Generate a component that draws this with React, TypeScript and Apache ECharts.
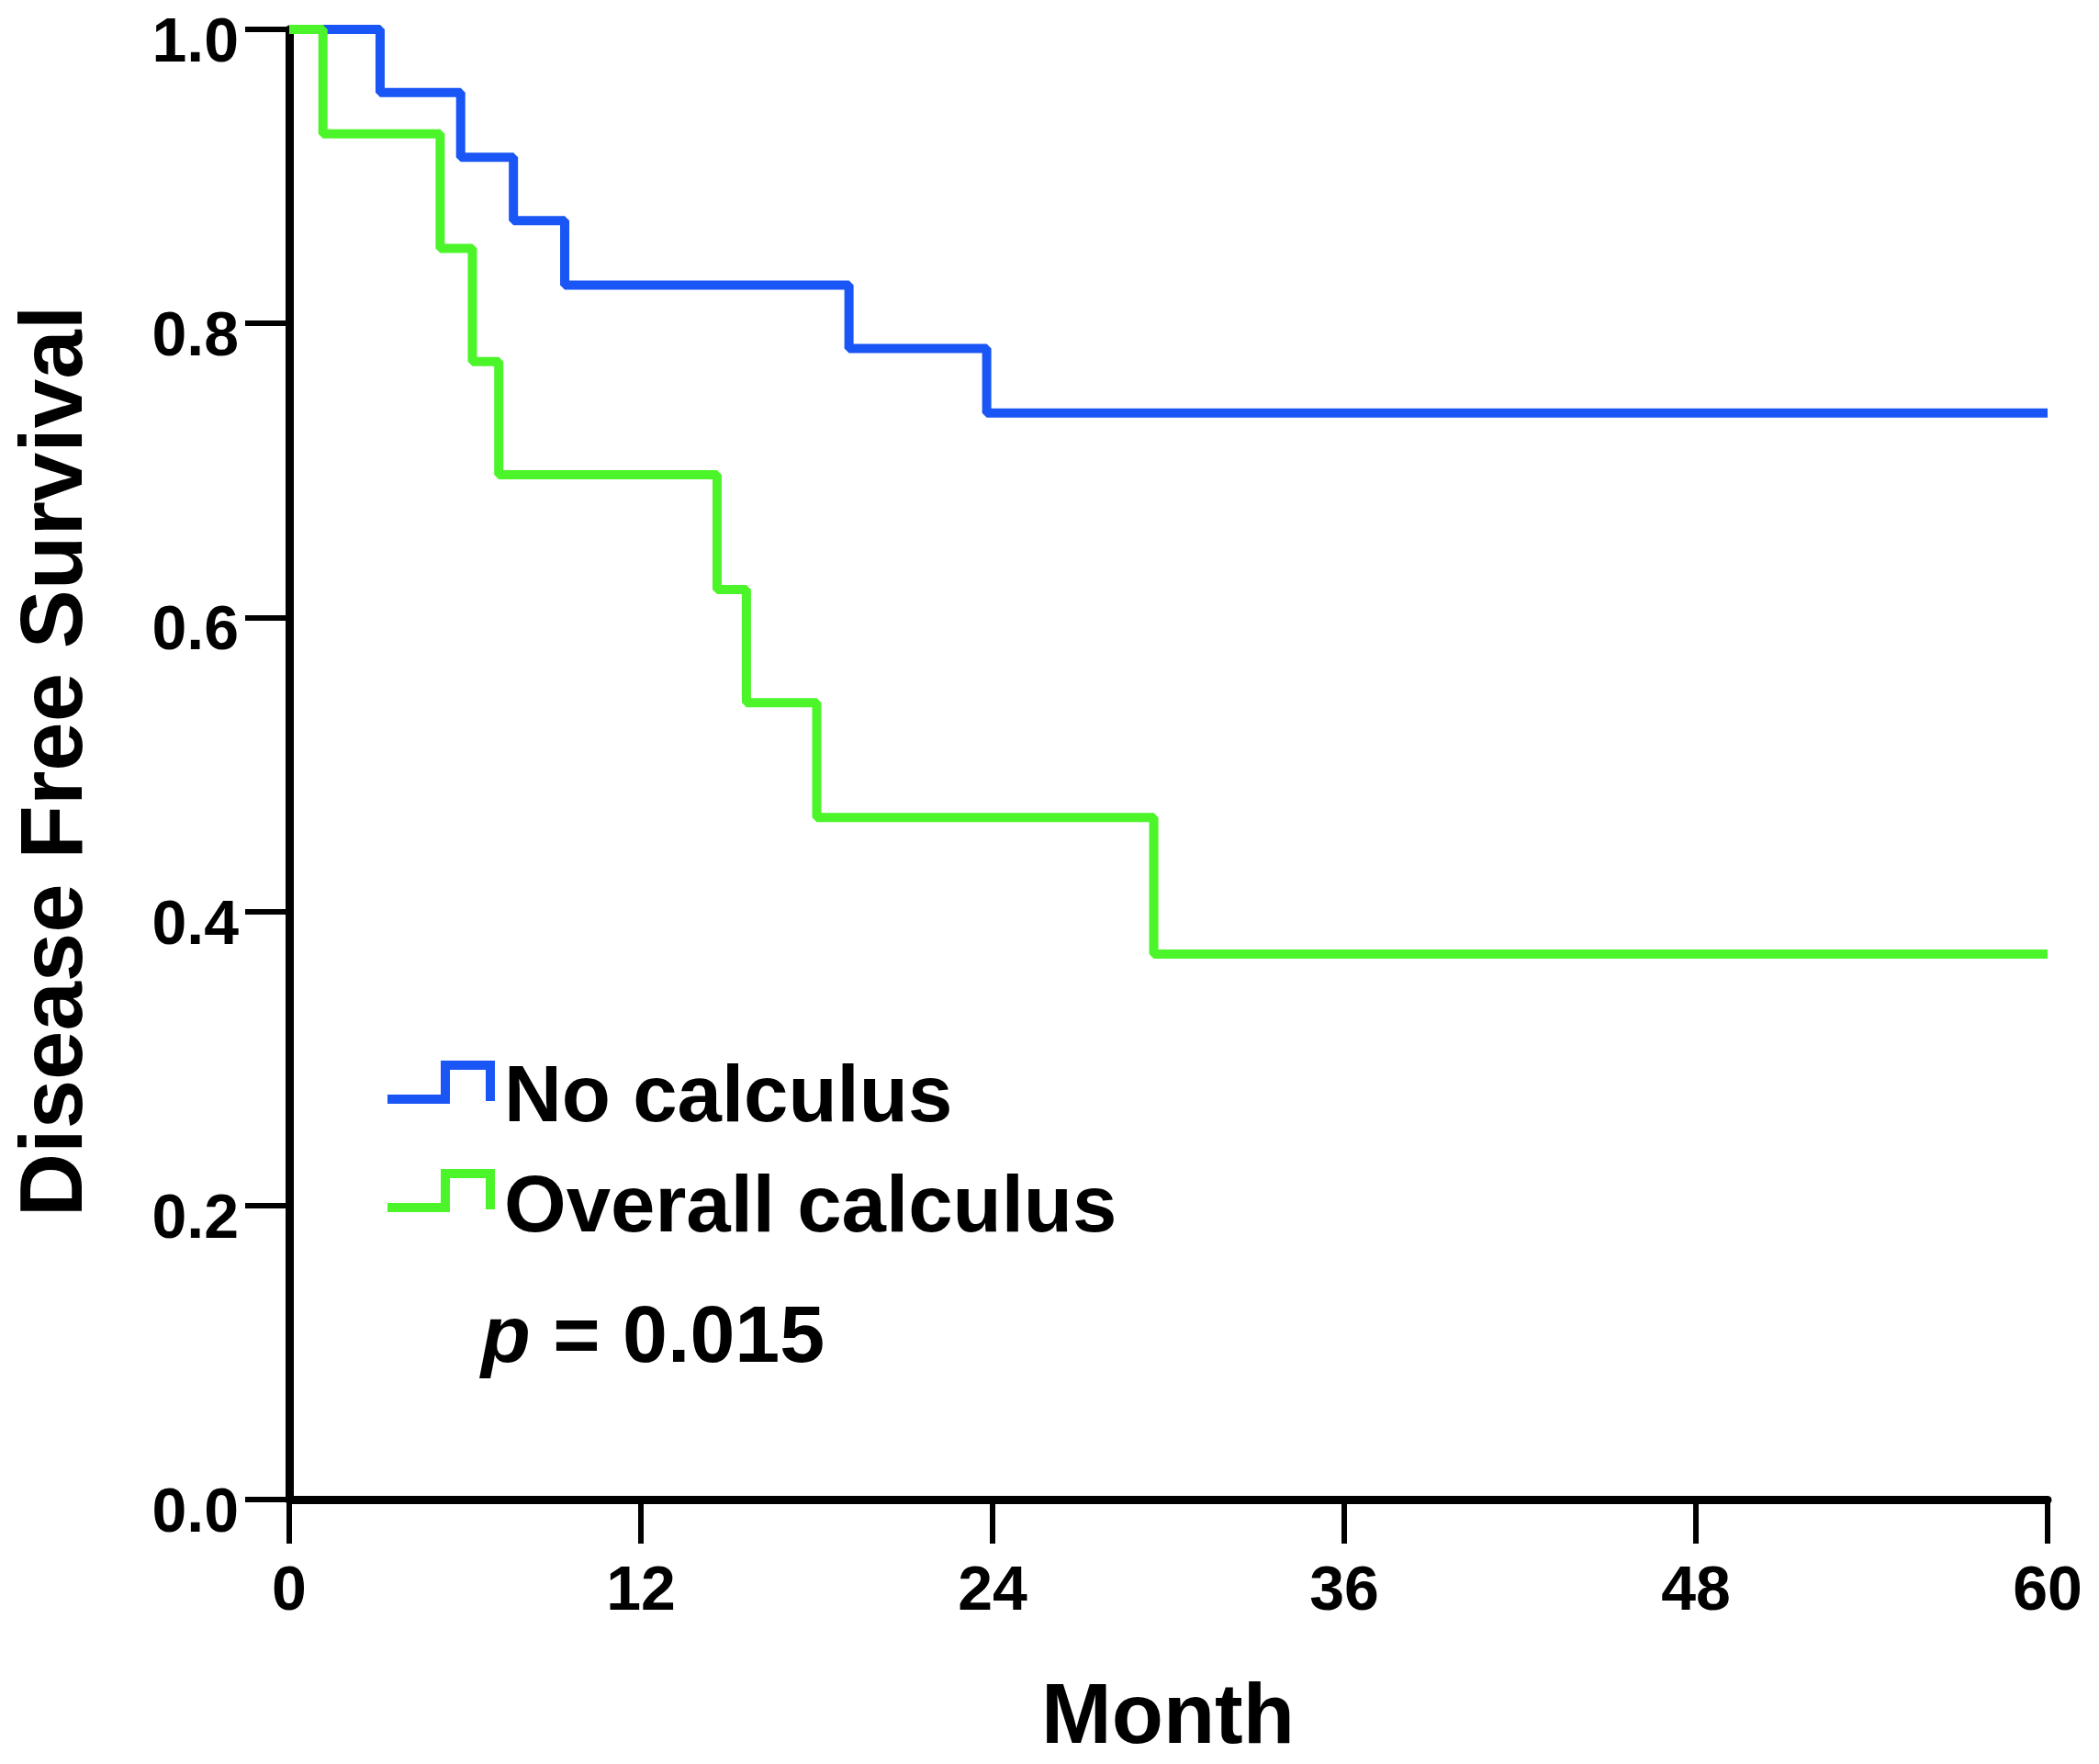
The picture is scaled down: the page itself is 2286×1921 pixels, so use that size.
import React, { useEffect, useRef } from "react";
import * as echarts from "echarts";

// Kaplan–Meier step data: [month, survival after the event]
const noCalculusTimes = [0, 3.1, 5.85, 7.65, 9.4, 19.1, 23.8, 60];
const noCalculusValues = [1.0, 0.957, 0.913, 0.87, 0.826, 0.783, 0.739, 0.739];

const overallTimes = [0, 1.15, 5.15, 6.25, 7.15, 14.6, 15.6, 18.0, 29.5, 60];
const overallValues = [1.0, 0.929, 0.851, 0.774, 0.697, 0.619, 0.542, 0.464, 0.371, 0.371];

const seriesNames = ["No calculus", "Overall calculus"];
const seriesColors = ["#1a55f5", "#4cf52a"];

const xTicks = { min: 0, max: 60, interval: 12 };
const yTicks = { min: 0, max: 1, interval: 0.2 };

const xTitle = "Month";
const yTitle = "Disease Free Survival";
const pText = "p";
const pValue = " = 0.015";

const FONT = "'Liberation Sans', Arial, Helvetica, sans-serif";

function legendItem(name: string, color: string, x: number, yTop: number, yBottom: number, textY: number) {
  return [
    {
      type: "polyline",
      shape: {
        points: [
          [x, yBottom],
          [x + 63, yBottom],
          [x + 63, yTop],
          [x + 112, yTop],
          [x + 112, yBottom + 2],
        ],
      },
      style: { stroke: color, lineWidth: 10, fill: null, lineJoin: "miter" },
    },
    {
      type: "text",
      x: x + 127,
      y: textY,
      style: {
        text: name,
        fontSize: 87,
        fontWeight: "bold",
        fontFamily: FONT,
        fill: "#000",
        textAlign: "left",
        textVerticalAlign: "middle",
      },
    },
  ];
}

export default function App() {
  const ref = useRef<HTMLDivElement>(null);

  useEffect(() => {
    document.body.style.margin = "0";
    if (!ref.current) return;
    const chart = echarts.init(ref.current, undefined, { renderer: "svg" });

    const toPairs = (t: number[], v: number[]) => t.map((x, i) => [x, v[i]]);

    chart.setOption({
      animation: false,
      backgroundColor: "#ffffff",
      grid: { left: 315, right: 56, top: 32, bottom: 288, containLabel: false },
      xAxis: {
        type: "value",
        min: xTicks.min,
        max: xTicks.max,
        interval: xTicks.interval,
        splitLine: { show: false },
        axisLine: { show: true, onZero: false, lineStyle: { color: "#000", width: 9 } },
        axisTick: { show: true, length: 48, lineStyle: { color: "#000", width: 6 } },
        axisLabel: {
          margin: 62,
          fontSize: 68,
          fontWeight: "bold",
          fontFamily: FONT,
          color: "#000",
        },
      },
      yAxis: {
        type: "value",
        min: yTicks.min,
        max: yTicks.max,
        interval: yTicks.interval,
        splitLine: { show: false },
        axisLine: { show: true, onZero: false, lineStyle: { color: "#000", width: 9 } },
        axisTick: { show: true, length: 48, lineStyle: { color: "#000", width: 6 } },
        axisLabel: {
          margin: 55,
          fontSize: 68,
          fontWeight: "bold",
          fontFamily: FONT,
          color: "#000",
          verticalAlign: "top",
          lineHeight: 22,
          formatter: (v: number) => v.toFixed(1),
        },
      },
      series: [
        {
          name: seriesNames[0],
          type: "line",
          step: "end",
          showSymbol: false,
          color: seriesColors[0],
          lineStyle: { width: 10, color: seriesColors[0] },
          data: toPairs(noCalculusTimes, noCalculusValues),
        },
        {
          name: seriesNames[1],
          type: "line",
          step: "end",
          showSymbol: false,
          color: seriesColors[1],
          lineStyle: { width: 10, color: seriesColors[1] },
          data: toPairs(overallTimes, overallValues),
        },
      ],
      graphic: [
        ...legendItem(seriesNames[0], seriesColors[0], 422, 1160, 1197, 1190),
        ...legendItem(seriesNames[1], seriesColors[1], 422, 1278, 1315, 1310),
        {
          type: "text",
          x: 1272,
          y: 1866,
          style: {
            text: xTitle,
            fontSize: 92,
            lineHeight: 70,
            fontWeight: "bold",
            fontFamily: FONT,
            fill: "#000",
            textAlign: "center",
            textVerticalAlign: "middle",
          },
        },
        {
          type: "text",
          x: 55,
          y: 829,
          rotation: Math.PI / 2,
          style: {
            text: yTitle,
            fontSize: 96,
            fontWeight: "bold",
            fontFamily: FONT,
            fill: "#000",
            textAlign: "center",
            textVerticalAlign: "middle",
          },
        },
        {
          type: "text",
          x: 524,
          y: 1452,
          style: {
            text: "{i|" + pText + "}{n|" + pValue + "}",
            fill: "#000",
            textVerticalAlign: "middle",
            rich: {
              i: { fontSize: 88, fontWeight: "bold", fontStyle: "italic", fontFamily: FONT, fill: "#000" },
              n: { fontSize: 88, fontWeight: "bold", fontFamily: FONT, fill: "#000" },
            },
          },
        },
      ],
    });

    return () => chart.dispose();
  }, []);

  return <div ref={ref} style={{ width: 2286, height: 1921 }} />;
}
